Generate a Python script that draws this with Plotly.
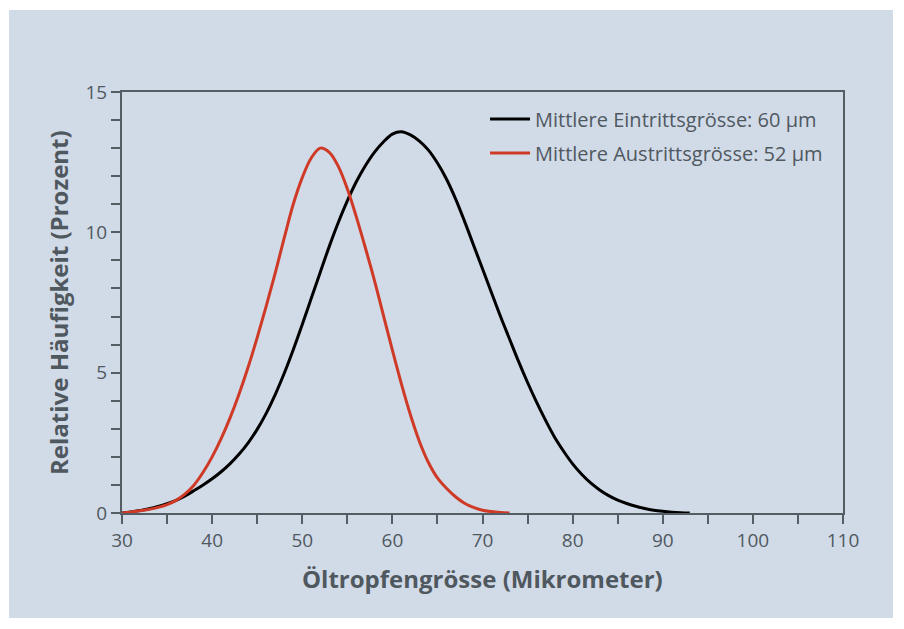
import plotly.graph_objects as go

# Data
x_ein = [30, 31, 32, 33, 34, 35, 36, 37, 38, 39, 40, 41, 42, 43, 44, 45, 46, 47, 48, 49,
         50, 51, 52, 53, 54, 55, 56, 57, 58, 59, 60, 61, 62, 63, 64, 65, 66, 67, 68, 69,
         70, 71, 72, 73, 74, 75, 76, 77, 78, 79, 80, 81, 82, 83, 84, 85, 86, 87, 88, 89,
         90, 91, 92, 93]
y_ein = [0.0, 0.04, 0.09, 0.15, 0.23, 0.33, 0.45, 0.61, 0.8, 1.0, 1.22, 1.47, 1.76, 2.1, 2.5, 2.98, 3.55, 4.22, 4.98, 5.82,
         6.72, 7.65, 8.58, 9.5, 10.35, 11.12, 11.8, 12.37, 12.85, 13.22, 13.5, 13.58, 13.47, 13.25, 12.93, 12.47, 11.9, 11.2, 10.4, 9.55,
         8.7, 7.85, 7.0, 6.2, 5.4, 4.65, 3.95, 3.3, 2.7, 2.2, 1.75, 1.38, 1.07, 0.82, 0.62, 0.46, 0.34, 0.24, 0.16, 0.1,
         0.06, 0.03, 0.01, 0.0]

x_aus = [30, 31, 32, 33, 34, 35, 36, 37, 38, 39, 40, 41, 42, 43, 44, 45, 46, 47, 48, 49,
         50, 51, 52, 53, 54, 55, 56, 57, 58, 59, 60, 61, 62, 63, 64, 65, 66, 67, 68, 69,
         70, 71, 72, 73]
y_aus = [0.0, 0.04, 0.08, 0.13, 0.2, 0.3, 0.45, 0.68, 1.0, 1.45, 2.0, 2.65, 3.4, 4.25, 5.2, 6.25, 7.37, 8.55, 9.8, 11.0,
         11.95, 12.65, 13.0, 12.85, 12.35, 11.55, 10.55, 9.45, 8.3, 7.05, 5.8, 4.6, 3.5, 2.55, 1.8, 1.25, 0.88, 0.58, 0.35, 0.2,
         0.1, 0.05, 0.02, 0.0]

name_ein = "Mittlere Eintrittsgrösse: 60 µm"
name_aus = "Mittlere Austrittsgrösse: 52 µm"

x_title = "Öltropfengrösse (Mikrometer)"
y_title = "Relative Häufigkeit (Prozent)"

BG = "#d1dbe8"
AX = "#555d64"
TXT = "#50585f"
FONT = "Open Sans"

PLOT_W, PLOT_H = 721, 421

fig = go.Figure()
fig.add_trace(go.Scatter(x=x_ein, y=y_ein, mode="lines", name=name_ein,
                         legendgroup="a",
                         line=dict(color="#000000", width=3, shape="spline", smoothing=1.0)))
fig.add_trace(go.Scatter(x=x_aus, y=y_aus, mode="lines", name=name_aus,
                         legendgroup="b",
                         line=dict(color="#cf3a27", width=3, shape="spline", smoothing=1.0)))

fig.update_layout(
    width=904, height=629,
    margin=dict(l=114, r=69, t=84, b=124),
    paper_bgcolor="white",
    plot_bgcolor="rgba(0,0,0,0)",
    font=dict(family=FONT, color=TXT, size=19),
    showlegend=True,
    legend=dict(x=0.5035, y=0.982, xanchor="left", yanchor="top",
                bgcolor="rgba(0,0,0,0)", font=dict(size=20, color=TXT),
                traceorder="grouped", tracegroupgap=5, itemwidth=40),
    shapes=[dict(type="rect", xref="paper", yref="paper",
                 x0=-113 / PLOT_W, x1=1 + 50 / PLOT_W, y0=-105 / PLOT_H, y1=1 + 82 / PLOT_H,
                 fillcolor=BG, line=dict(width=0), layer="below")],
    annotations=[
        dict(text=f"<b>{y_title}</b>", xref="paper", yref="paper",
             x=-63.5 / PLOT_W, y=0.5, showarrow=False,
             textangle=-90, font=dict(size=24, color=TXT, family=FONT),
             xanchor="center", yanchor="middle"),
        dict(text=f"<b>{x_title}</b>", xref="paper", yref="paper",
             x=0.5, y=-65 / PLOT_H, showarrow=False,
             font=dict(size=24, color=TXT, family=FONT),
             xanchor="center", yanchor="middle"),
    ],
)

fig.update_xaxes(range=[30, 110], dtick=10, tick0=30, showgrid=False, zeroline=False,
                 showline=True, linecolor=AX, linewidth=2, mirror=True,
                 ticks="outside", ticklen=9, tickwidth=2, tickcolor=AX,
                 tickfont=dict(size=19, color=TXT),
                 minor=dict(dtick=5, tick0=30, ticks="outside", ticklen=9, tickwidth=2, tickcolor=AX, showgrid=False))
fig.update_yaxes(range=[0, 15], dtick=5, tick0=0, showgrid=False, zeroline=False,
                 showline=True, linecolor=AX, linewidth=2, mirror=True,
                 ticks="outside", ticklen=9, tickwidth=2, tickcolor=AX,
                 tickfont=dict(size=19, color=TXT),
                 minor=dict(dtick=1, tick0=0, ticks="outside", ticklen=9, tickwidth=2, tickcolor=AX, showgrid=False))

fig.write_html("out.html")
